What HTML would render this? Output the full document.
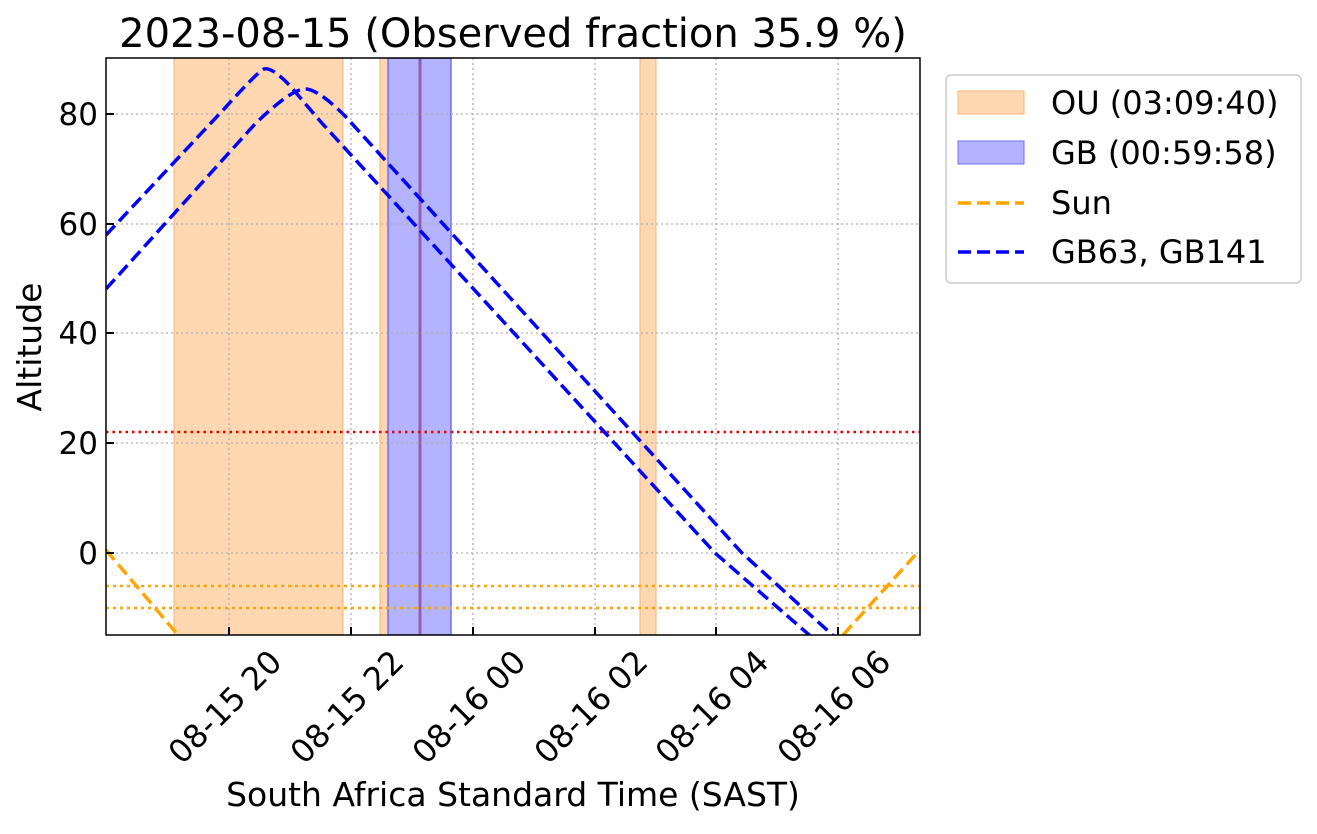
<!DOCTYPE html>
<html><head><style>body{margin:0;background:#fff}</style></head><body>
<svg width="1317" height="829" xmlns="http://www.w3.org/2000/svg" font-family="DejaVu Sans, Liberation Sans, sans-serif">
<defs><clipPath id="c"><rect x="106" y="58" width="814" height="577"/></clipPath></defs>
<rect width="1317" height="829" fill="#fff"/>
<g clip-path="url(#c)">
<rect x="174" y="58" width="169" height="577" fill="#ffd7b0" stroke="#f5b57a" stroke-width="1"/>
<rect x="380" y="58" width="8" height="577" fill="#ffd7b0" stroke="#f5b57a" stroke-width="1"/>
<rect x="640" y="58" width="16" height="577" fill="#ffd7b0" stroke="#f5b57a" stroke-width="1"/>
<rect x="388" y="58" width="63" height="577" fill="#b3b3ff" stroke="#7070f5" stroke-width="1.5"/>
<line x1="420" y1="58" x2="420" y2="635" stroke="#9060b0" stroke-width="3"/>
<g stroke="#b0b0b0" stroke-width="1.3" stroke-dasharray="2,3">
<line x1="229" y1="58" x2="229" y2="635"/><line x1="351" y1="58" x2="351" y2="635"/><line x1="473" y1="58" x2="473" y2="635"/><line x1="595" y1="58" x2="595" y2="635"/><line x1="716" y1="58" x2="716" y2="635"/><line x1="838" y1="58" x2="838" y2="635"/>
<line x1="106" y1="114" x2="920" y2="114"/><line x1="106" y1="224" x2="920" y2="224"/><line x1="106" y1="333" x2="920" y2="333"/><line x1="106" y1="443" x2="920" y2="443"/><line x1="106" y1="553" x2="920" y2="553"/>
</g>
<line x1="106" y1="432" x2="920" y2="432" stroke="#e00" stroke-width="2.5" stroke-dasharray="2.5,4"/>
<line x1="106" y1="586" x2="920" y2="586" stroke="orange" stroke-width="2.5" stroke-dasharray="3,4"/>
<line x1="106" y1="608" x2="920" y2="608" stroke="orange" stroke-width="2.5" stroke-dasharray="3,4"/>
<g fill="none" stroke-width="3.5" stroke-dasharray="13,6">
<polyline stroke="orange" points="106,550 178,635"/>
<polyline stroke="orange" points="843,635 918,552"/>
<path stroke="#00f" d="M106,235 L225,108 Q252,78 262,70 Q270,64 292,88 L320,121 L715,553 L815,640"/>
<path stroke="#00f" d="M106,289 L255,124 Q288,92 303,89 Q316,87 345,116 L742,553 L838,640"/>
</g>
</g>
<rect x="106" y="58" width="814" height="577" fill="none" stroke="#000" stroke-width="1.5"/>
<g stroke="#000" stroke-width="2">
<line x1="229" y1="635" x2="229" y2="627"/><line x1="351" y1="635" x2="351" y2="627"/><line x1="473" y1="635" x2="473" y2="627"/><line x1="595" y1="635" x2="595" y2="627"/><line x1="716" y1="635" x2="716" y2="627"/><line x1="838" y1="635" x2="838" y2="627"/>
<line x1="106" y1="114" x2="114" y2="114"/><line x1="106" y1="224" x2="114" y2="224"/><line x1="106" y1="333" x2="114" y2="333"/><line x1="106" y1="443" x2="114" y2="443"/><line x1="106" y1="553" x2="114" y2="553"/>
</g>
<g font-size="31" text-anchor="end">
<text x="98" y="125">80</text><text x="98" y="235">60</text><text x="98" y="344">40</text><text x="98" y="454">20</text><text x="98" y="564">0</text>
</g>
<g font-size="32" text-anchor="middle">
<text transform="translate(225,707) rotate(-45)" y="11">08-15 20</text>
<text transform="translate(347,707) rotate(-45)" y="11">08-15 22</text>
<text transform="translate(469,707) rotate(-45)" y="11">08-16 00</text>
<text transform="translate(591,707) rotate(-45)" y="11">08-16 02</text>
<text transform="translate(712,707) rotate(-45)" y="11">08-16 04</text>
<text transform="translate(834,707) rotate(-45)" y="11">08-16 06</text>
</g>
<text x="513" y="806" font-size="33" text-anchor="middle">South Africa Standard Time (SAST)</text>
<text transform="translate(41,347) rotate(-90)" font-size="33" text-anchor="middle">Altitude</text>
<text x="513" y="47" font-size="40" text-anchor="middle">2023-08-15 (Observed fraction 35.9 %)</text>
<rect x="946" y="75" width="355" height="208" rx="5" fill="#fff" stroke="#ccc" stroke-width="1.5"/>
<rect x="958" y="91" width="66" height="23" fill="#ffd7b0" stroke="#f5b57a"/>
<rect x="958" y="141" width="66" height="23" fill="#b3b3ff" stroke="#7070f5"/>
<line x1="958" y1="203" x2="1024" y2="203" stroke="orange" stroke-width="3.5" stroke-dasharray="13,6"/>
<line x1="958" y1="252" x2="1024" y2="252" stroke="#00f" stroke-width="3.5" stroke-dasharray="13,6"/>
<g font-size="32">
<text x="1051" y="114">OU (03:09:40)</text>
<text x="1051" y="164">GB (00:59:58)</text>
<text x="1051" y="214">Sun</text>
<text x="1051" y="263">GB63, GB141</text>
</g>
</svg>
</body></html>
